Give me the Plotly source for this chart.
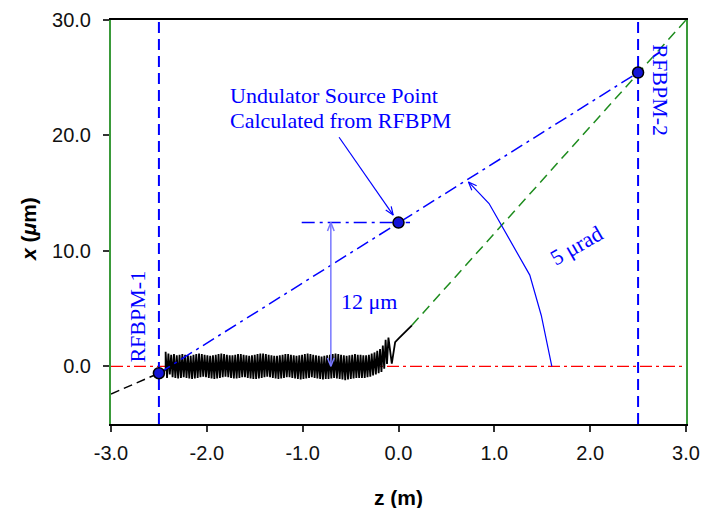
import numpy as np
import plotly.graph_objects as go

# ---- data ----
z_min, z_max = -3.0, 3.0
x_min, x_max = -5.0, 30.0
x_tick_vals = [-3, -2, -1, 0, 1, 2, 3]
x_tick_text = ["-3.0", "-2.0", "-1.0", "0.0", "1.0", "2.0", "3.0"]
y_tick_vals = [0, 10, 20, 30]
y_tick_text = ["0.0", "10.0", "20.0", "30.0"]

# RF BPM locations (m)
bpm_z = [-2.5, 2.5]
# orbit readings at the BPMs and the calculated source point
source_z = [-2.5, 0.0, 2.5]
source_x = [-0.6, 12.45, 25.45]

# upstream straight-line orbit (dashed black)
up_z = [-3.0, -2.43]
up_x = [-2.4, -0.35]

# undulator trajectory: successive top / bottom extrema of the wiggle
osc_z_start, osc_z_end = -2.43, -0.12
osc_top = [1.25, 1.1, 1.0, 1.05, 0.95, 1.0, 1.05, 1.0, 0.95, 0.9,
           1.0, 1.05, 1.1, 1.05, 1.0, 0.95, 0.9, 0.95, 1.0, 1.05,
           1.1, 1.05, 1.0, 0.95, 0.95, 1.0, 1.05, 1.05, 1.0, 0.95,
           0.9, 0.95, 1.0, 1.05, 1.1, 1.1, 1.05, 1.0, 0.95, 0.9,
           0.9, 0.95, 1.0, 1.05, 1.05, 1.0, 0.95, 0.9, 0.95, 1.0,
           1.05, 1.1, 1.05, 1.0, 0.95, 0.9, 0.85, 0.9, 0.95, 1.0,
           1.05, 1.1, 1.05, 1.0, 0.95, 0.9, 0.95, 1.0, 1.05, 1.0,
           1.0, 0.95, 0.95, 1.0, 1.1, 1.2, 1.35, 1.5, 1.8, 2.3]
osc_bot = [-1.0, -0.7, -0.95, -1.0, -1.05, -1.0, -0.95, -1.0, -1.05, -1.1,
           -1.05, -1.0, -0.95, -0.9, -0.95, -1.0, -1.05, -1.1, -1.05, -1.0,
           -0.95, -0.9, -0.95, -1.0, -1.05, -1.05, -1.0, -0.95, -0.95, -1.0,
           -1.05, -1.1, -1.1, -1.05, -1.0, -0.95, -0.9, -0.95, -1.0, -1.05,
           -1.1, -1.05, -1.0, -0.95, -0.95, -1.0, -1.05, -1.1, -1.15, -1.1,
           -1.05, -1.0, -0.95, -1.0, -1.05, -1.1, -1.15, -1.1, -1.1, -1.05,
           -1.0, -1.05, -1.1, -1.15, -1.2, -1.15, -1.1, -1.05, -1.0, -1.0,
           -1.0, -1.0, -0.95, -0.9, -0.8, -0.7, -0.6, -0.5, -0.2, 0.2]
# exit kink of the trajectory
tail_z = [-0.105, -0.07, -0.035, 0.0, 0.14]
tail_x = [2.49, 0.23, 2.1, 2.4, 3.55]

# downstream extrapolation (dashed green)
down_z = [0.14, 3.0]
down_x = [3.55, 30.0]

# 12 um offset marker
offset_z = -0.706
offset_x = [12.45, 0.0]
hline_z = [-1.01, 0.12]

# 5 urad angle marker curve
ang_z = [0.73, 0.945, 1.37, 1.49, 1.6]
ang_x = [15.97, 14.1, 7.9, 4.4, 0.0]

# source point pointer
ptr_z = [-0.62, -0.055]
ptr_x = [19.84, 13.1]

# ---- layout geometry ----
W, H = 703, 508
ML, MR, MT, MB = 111, 17, 20, 84
PW, PH = W - ML - MR, H - MT - MB
sz = PW / (z_max - z_min)   # px per metre
sx = PH / (x_max - x_min)   # px per micron

BLUE = "#0000ff"
LBLUE = "#7777ff"
SERIF = "Liberation Serif, Times New Roman, serif"
SANS = "Liberation Sans, Arial, sans-serif"


def vhead(tip, tail, length=9, half=0.38):
    """Open V arrowhead at tip, pointing away from tail (data coords)."""
    dx = (tip[0] - tail[0]) * sz
    dy = (tip[1] - tail[1]) * sx
    n = np.hypot(dx, dy)
    ux, uy = dx / n, dy / n
    pts = []
    for s in (1, -1):
        c, si = np.cos(s * half), np.sin(s * half)
        rx = ux * c - uy * si
        ry = ux * si + uy * c
        pts.append((tip[0] - rx * length / sz, tip[1] - ry * length / sx))
    return ([pts[0][0], tip[0], pts[1][0]], [pts[0][1], tip[1], pts[1][1]])


fig = go.Figure()


def line(zs, xs, color, width=1.5, dash="solid"):
    fig.add_trace(go.Scatter(x=zs, y=xs, mode="lines", hoverinfo="skip",
                             line=dict(color=color, width=width, dash=dash)))


# reference axis x = 0
line([z_min, z_max], [0, 0], "#ff0000", 1.2, "12px,4px,3px,4px")

# BPM positions
for zb in bpm_z:
    line([zb, zb], [x_min, x_max], BLUE, 2, "11px,6px")

# upstream / downstream straight orbits
line(up_z, up_x, "#000000", 1.5, "9px,5px")
line(down_z, down_x, "#1e8c1e", 1.5, "10px,6px")

# undulator trajectory
n = min(len(osc_top), len(osc_bot))
osc_x = []
for a, b in zip(osc_top[:n], osc_bot[:n]):
    osc_x += [a, b]
osc_z = list(np.linspace(osc_z_start, osc_z_end, len(osc_x)))
traj_z = [up_z[-1]] + osc_z + tail_z
traj_x = [up_x[-1]] + osc_x + tail_x
line(traj_z, traj_x, "#000000", 1.8)

# line through the BPM readings
line([source_z[0], source_z[-1]], [source_x[0], source_x[-1]], BLUE, 1.5,
     "13px,5px,3px,5px")
line(hline_z, [source_x[1], source_x[1]], BLUE, 1.5, "13px,5px,3px,5px")

# 12 um double arrow
line([offset_z, offset_z], offset_x, LBLUE, 1.5)
hz, hx = vhead((offset_z, offset_x[0]), (offset_z, offset_x[1]))
line(hz, hx, LBLUE, 1.5)
hz, hx = vhead((offset_z, offset_x[1]), (offset_z, offset_x[0]))
line(hz, hx, LBLUE, 1.5)

# 5 urad curve with arrow
line(ang_z, ang_x, BLUE, 1.2)
hz, hx = vhead((ang_z[0], ang_x[0]), (ang_z[1], ang_x[1]))
line(hz, hx, BLUE, 1.2)

# pointer to the source point
line(ptr_z, ptr_x, BLUE, 1.2)
hz, hx = vhead((ptr_z[1], ptr_x[1]), (ptr_z[0], ptr_x[0]))
line(hz, hx, BLUE, 1.2)

# BPM readings and source point
fig.add_trace(go.Scatter(x=source_z, y=source_x, mode="markers", hoverinfo="skip",
                         marker=dict(size=11, color="#1414d8",
                                     line=dict(color="#000000", width=1.5))))

annos = [
    dict(x=-1.777, y=23.48, text="Undulator Source Point", xanchor="left"),
    dict(x=-1.777, y=21.32, text="Calculated from RFBPM", xanchor="left"),
    dict(x=-0.62, y=5.57, text="12 μm", xanchor="left"),
    dict(x=1.855, y=10.5, text="5 μrad", textangle=-30),
    dict(x=-2.726, y=4.33, text="RFBPM-1", textangle=-90),
    dict(x=2.74, y=23.9, text="RFBPM-2", textangle=90),
]
for a in annos:
    a.setdefault("xanchor", "center")
    fig.add_annotation(xref="x", yref="y", showarrow=False, yanchor="middle",
                       font=dict(family=SERIF, size=22, color=BLUE), **a)

# axis titles
fig.add_annotation(xref="paper", yref="paper", x=(28 - ML) / PW, y=(H - MB - 229) / PH,
                   xanchor="center", yanchor="middle",
                   text="<b><i>x</i> (<i>μ</i>m)</b>", textangle=-90, showarrow=False,
                   font=dict(family=SANS, size=21, color="#000000"))
fig.add_annotation(xref="paper", yref="paper", x=0.5, y=(H - MB - 497) / PH,
                   xanchor="center", yanchor="middle",
                   text="<b>z (m)</b>", showarrow=False,
                   font=dict(family=SANS, size=21, color="#000000"))

fig.update_layout(
    width=W, height=H, margin=dict(l=ML, r=MR, t=MT, b=MB, autoexpand=False),
    paper_bgcolor="white", plot_bgcolor="white", showlegend=False,
    xaxis=dict(range=[z_min, z_max], tickvals=x_tick_vals, ticktext=x_tick_text,
               showgrid=False, zeroline=False, showline=True, mirror=True,
               automargin=False,
               linecolor="#000000", linewidth=1.5, ticks="outside", ticklen=6,
               tickcolor="#333333", tickwidth=1.5, ticklabelstandoff=4,
               tickfont=dict(family=SANS, size=20, color="#111111")),
    yaxis=dict(range=[x_min, x_max], tickvals=y_tick_vals, ticktext=y_tick_text,
               showgrid=False, zeroline=False, showline=True, mirror=True,
               automargin=False,
               linecolor="#3a9a3a", linewidth=2, ticks="outside", ticklen=6,
               tickcolor="#333333", tickwidth=1.5, ticklabelstandoff=8,
               tickfont=dict(family=SANS, size=20, color="#111111")),
)

fig.write_html("out.html")
